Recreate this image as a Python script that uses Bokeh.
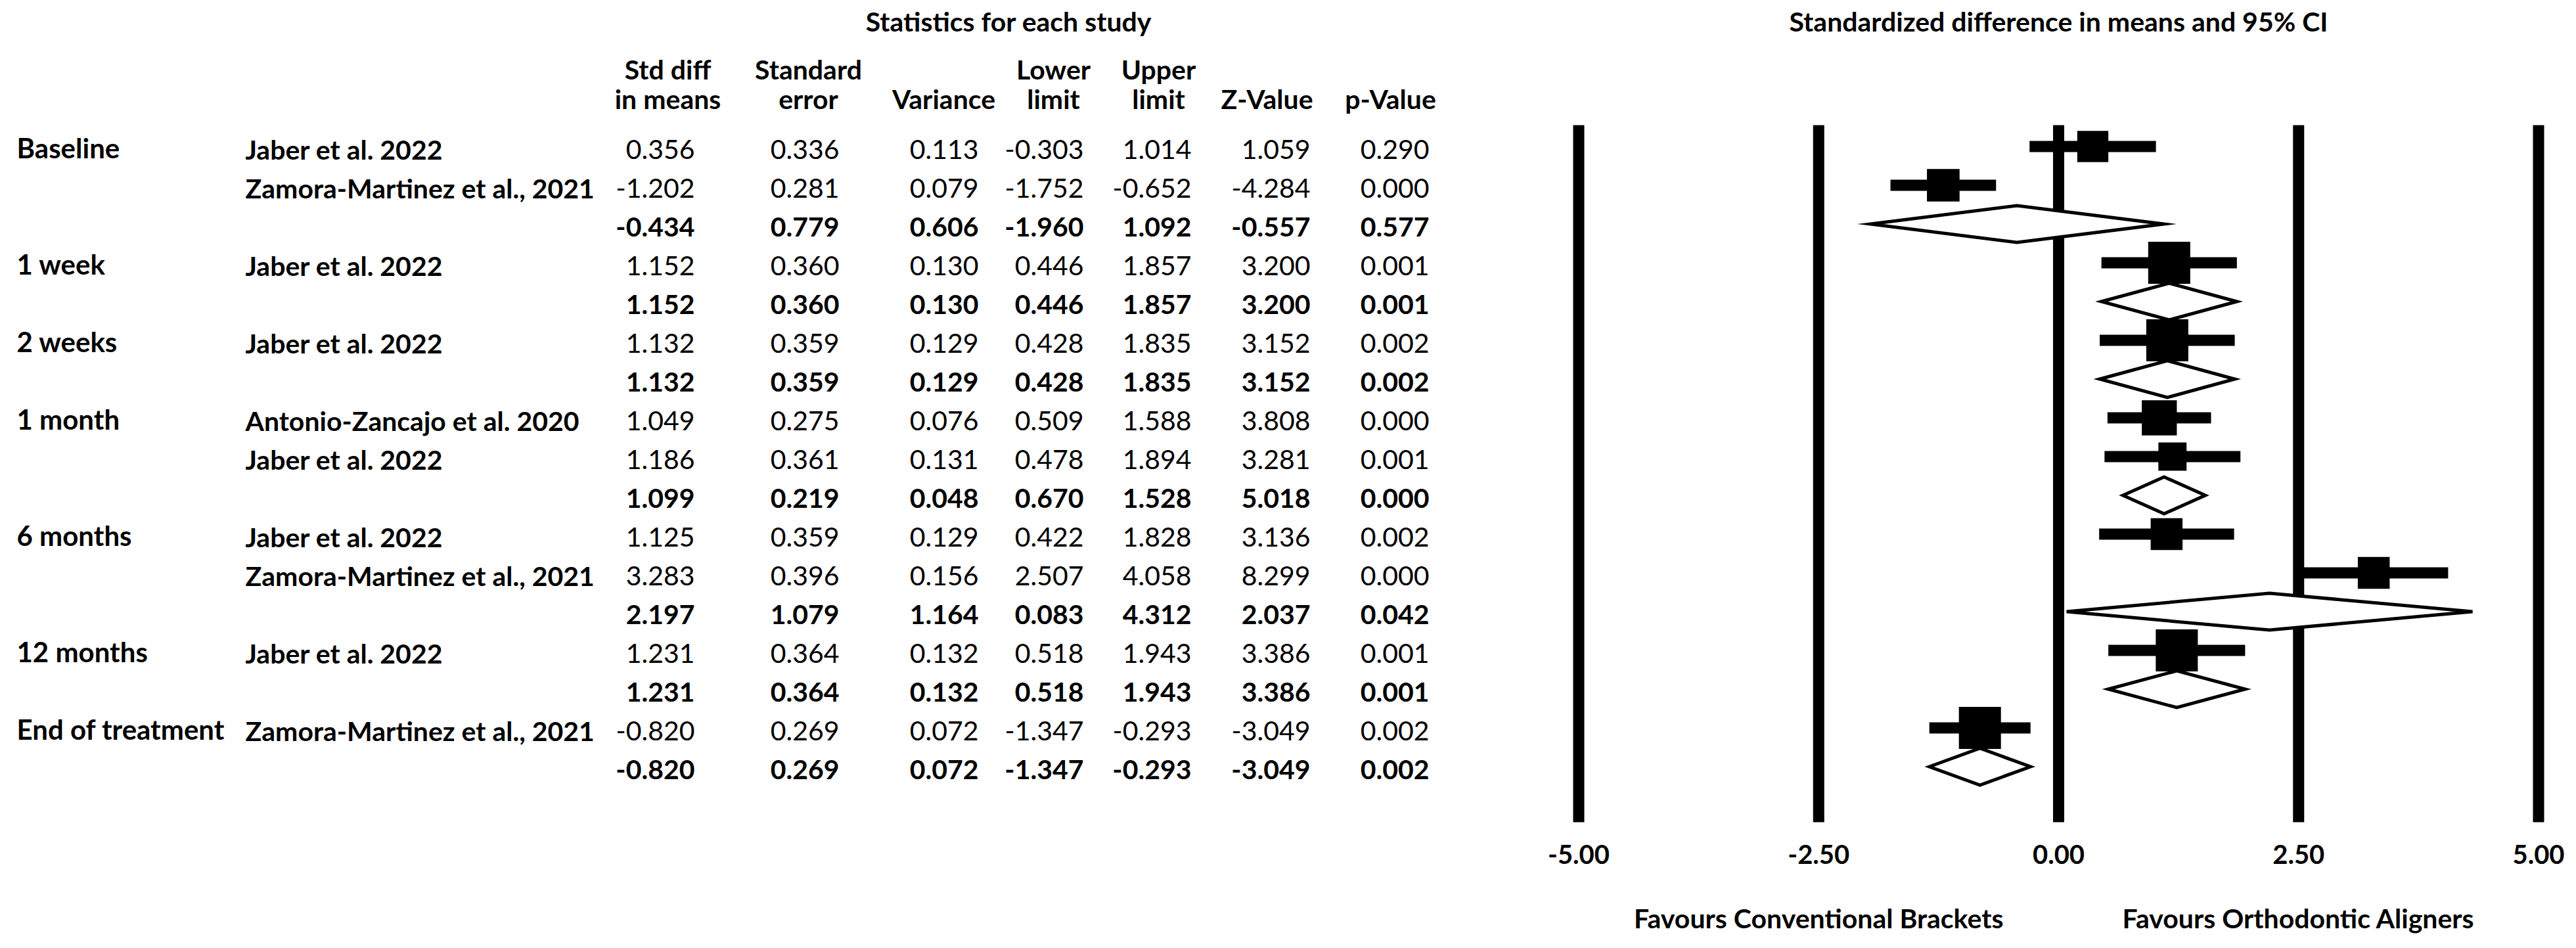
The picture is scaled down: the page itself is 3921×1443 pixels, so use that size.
from bokeh.plotting import figure
from bokeh.models import Range1d
from bokeh.core.properties import value
from bokeh.embed import file_html
from bokeh.resources import INLINE

# ---------------- data ----------------
row_group = ["Baseline", "", "", "1 week", "", "2 weeks", "", "1 month", "", "",
             "6 months", "", "", "12 months", "", "End of treatment", ""]
row_study = ["Jaber et al. 2022", "Zamora-Martinez et al., 2021", "",
             "Jaber et al. 2022", "",
             "Jaber et al. 2022", "",
             "Antonio-Zancajo et al. 2020", "Jaber et al. 2022", "",
             "Jaber et al. 2022", "Zamora-Martinez et al., 2021", "",
             "Jaber et al. 2022", "",
             "Zamora-Martinez et al., 2021", ""]
row_is_summary = [False, False, True, False, True, False, True, False, False, True,
                  False, False, True, False, True, False, True]
std_diff = [0.356, -1.202, -0.434, 1.152, 1.152, 1.132, 1.132, 1.049, 1.186, 1.099,
            1.125, 3.283, 2.197, 1.231, 1.231, -0.820, -0.820]
std_err = [0.336, 0.281, 0.779, 0.360, 0.360, 0.359, 0.359, 0.275, 0.361, 0.219,
           0.359, 0.396, 1.079, 0.364, 0.364, 0.269, 0.269]
variance = [0.113, 0.079, 0.606, 0.130, 0.130, 0.129, 0.129, 0.076, 0.131, 0.048,
            0.129, 0.156, 1.164, 0.132, 0.132, 0.072, 0.072]
lower = [-0.303, -1.752, -1.960, 0.446, 0.446, 0.428, 0.428, 0.509, 0.478, 0.670,
         0.422, 2.507, 0.083, 0.518, 0.518, -1.347, -1.347]
upper = [1.014, -0.652, 1.092, 1.857, 1.857, 1.835, 1.835, 1.588, 1.894, 1.528,
         1.828, 4.058, 4.312, 1.943, 1.943, -0.293, -0.293]
z_value = [1.059, -4.284, -0.557, 3.200, 3.200, 3.152, 3.152, 3.808, 3.281, 5.018,
           3.136, 8.299, 2.037, 3.386, 3.386, -3.049, -3.049]
p_value = [0.290, 0.000, 0.577, 0.001, 0.001, 0.002, 0.002, 0.000, 0.001, 0.000,
           0.002, 0.000, 0.042, 0.001, 0.001, 0.002, 0.002]
# relative weight (%) of each study within its subgroup (estimated from square sizes)
rel_weight = [47.0, 53.0, 100, 100, 100, 100, 100, 63.3, 36.7, 100,
              50.0, 50.0, 100, 100, 100, 100, 100]

col_head1 = ["Std diff", "Standard", "", "Lower", "Upper", "", ""]
col_head2 = ["in means", "error", "Variance", "limit", "limit", "Z-Value", "p-Value"]
x_ticks = [-5.0, -2.5, 0.0, 2.5, 5.0]
tick_labels = ["-5.00", "-2.50", "0.00", "2.50", "5.00"]
title_left = "Statistics for each study"
title_right = "Standardized difference in means and 95% CI"
favours_left = "Favours Conventional Brackets"
favours_right = "Favours Orthodontic Aligners"

# ---------------- layout (page pixels) ----------------
W, H = 3915, 1440
M = 0                 # bokeh's page template has no body margin
ROW0 = 222.5          # page y of first row centre
ROW_PX = 59.0         # row pitch
ZERO_PX = 3133.0      # page x of effect 0
UNIT_PX = 146.1       # px per effect unit
TXT_FIX = 18.0        # measured: rendered alphabetic baseline sits this much lower
FONT = value("Lato")
FS = "41px"


def yr(py):
    return (py - ROW0) / ROW_PX


def ty(py):
    # row-units position for a text whose baseline should be at page y `py`
    return yr(py - TXT_FIX)


n = len(std_diff)
rows = list(range(n))

p = figure(width=W, height=H, x_range=Range1d(M, M + W),
           y_range=Range1d(yr(M + H), yr(M)),
           output_backend="svg", toolbar_location=None, min_border=0,
           x_axis_type=None, y_axis_type=None)
p.extra_x_ranges = {"es": Range1d((M - ZERO_PX) / UNIT_PX, (M + W - ZERO_PX) / UNIT_PX)}
p.grid.visible = False
p.outline_line_color = None
p.background_fill_color = "white"
p.border_fill_color = "white"

ROW_BASE = 22.0  # px: text baseline below row centre

# titles
p.text(x=[1535], y=[ty(50)], text=[title_left], text_font=FONT, text_font_style="bold",
       text_font_size="41px", text_align="center", text_baseline="alphabetic", text_color="black")
p.text(x=[0.0], y=[ty(50)], text=[title_right], text_font=FONT, text_font_style="bold",
       text_font_size="41px", text_align="center", text_baseline="alphabetic", text_color="black",
       x_range_name="es")

# column headers
head_cx = [1016, 1230, 1436, 1603, 1763, 1928, 2116]
p.text(x=head_cx, y=[ty(123)] * 7, text=col_head1, text_font=FONT, text_font_style="bold",
       text_font_size=FS, text_align="center", text_baseline="alphabetic", text_color="black")
p.text(x=head_cx, y=[ty(168)] * 7, text=col_head2, text_font=FONT, text_font_style="bold",
       text_font_size=FS, text_align="center", text_baseline="alphabetic", text_color="black")

# group labels and study names
p.text(x=[25] * n, y=[ty(ROW0 + r * ROW_PX + ROW_BASE - 2) for r in rows], text=row_group,
       text_font=FONT, text_font_style="bold", text_font_size="42px", text_align="left",
       text_baseline="alphabetic", text_color="black")
p.text(x=[373] * n, y=[ty(ROW0 + r * ROW_PX + ROW_BASE) for r in rows], text=row_study,
       text_font=FONT, text_font_style="bold", text_font_size=FS, text_align="left",
       text_baseline="alphabetic", text_color="black")

# numeric columns
col_right = [1057, 1277, 1489, 1649, 1813, 1994, 2175]
columns = [std_diff, std_err, variance, lower, upper, z_value, p_value]
for cx, col in zip(col_right, columns):
    for style in ("normal", "bold"):
        idx = [i for i in rows if row_is_summary[i] == (style == "bold")]
        p.text(x=[cx] * len(idx), y=[ty(ROW0 + i * ROW_PX + ROW_BASE) for i in idx],
               text=[f"{col[i]:.3f}" for i in idx], text_font=FONT,
               text_font_style=style, text_font_size=FS, text_align="right",
               text_baseline="alphabetic", text_color="black")

# vertical reference lines
p.segment(x0=x_ticks, y0=[yr(190)] * 5, x1=x_ticks, y1=[yr(1251)] * 5,
          line_width=17, line_color="black", line_cap="butt", x_range_name="es")

# tick labels and favours labels
p.text(x=x_ticks, y=[ty(1318)] * 5, text=tick_labels, text_font=FONT, text_font_style="bold",
       text_font_size="40px", text_align="center", text_baseline="alphabetic", text_color="black",
       x_range_name="es")
p.text(x=[-2.5, 2.5], y=[ty(1415)] * 2, text=[favours_left, favours_right], text_font=FONT,
       text_font_style="bold", text_font_size="41px", text_align="center",
       text_baseline="alphabetic", text_color="black", x_range_name="es")

# study CIs and squares
study_idx = [i for i in rows if not row_is_summary[i]]
p.segment(x0=[lower[i] for i in study_idx], y0=study_idx,
          x1=[upper[i] for i in study_idx], y1=study_idx,
          line_width=17, line_color="black", line_cap="butt", x_range_name="es")
sizes = [64.0 * (rel_weight[i] / 100.0) ** 0.4 for i in study_idx]
p.scatter(x=[std_diff[i] for i in study_idx], y=study_idx, size=sizes, marker="square",
          fill_color="black", line_color=None, x_range_name="es")

# summary diamonds
sum_idx = [i for i in rows if row_is_summary[i]]
HD = 28.0 / ROW_PX
p.patches(xs=[[lower[i], std_diff[i], upper[i], std_diff[i]] for i in sum_idx],
          ys=[[i, i - HD, i, i + HD] for i in sum_idx],
          fill_color="white", line_color="black", line_width=5, line_join="miter",
          x_range_name="es")

open("out.html", "w").write(file_html(p, INLINE))
